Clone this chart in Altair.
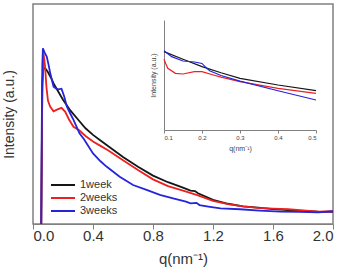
import altair as alt
import pandas as pd

series = ["1week", "2weeks", "3weeks"]
colors = ["#151515", "#ec2020", "#2424dc"]

# main curves
q_1w = [0.055, 0.062, 0.07, 0.085, 0.1, 0.12, 0.14, 0.17, 0.2, 0.25, 0.3, 0.35, 0.4, 0.45, 0.5, 0.6, 0.7, 0.8, 0.9, 1.0, 1.05, 1.08, 1.1, 1.2, 1.3, 1.4, 1.5, 1.6, 1.7, 1.8, 1.9, 2.0]
v_1w = [0, 64, 71, 70.5, 69, 66.5, 63.5, 60, 56.5, 51.5, 47.5, 43.5, 40.5, 38, 35.5, 30.5, 26, 22, 19, 16.5, 15.2, 15.0, 14, 11, 9.2, 8.0, 7.4, 6.8, 6.3, 6.0, 5.6, 5.5]

q_2w = [0.055, 0.062, 0.07, 0.08, 0.09, 0.1, 0.115, 0.137, 0.16, 0.19, 0.215, 0.24, 0.27, 0.31, 0.35, 0.4, 0.45, 0.5, 0.6, 0.7, 0.8, 0.9, 1.0, 1.1, 1.2, 1.3, 1.4, 1.5, 1.6, 1.7, 1.8, 1.9, 2.0]
v_2w = [0, 60, 77.5, 72, 62, 56, 53.3, 51.2, 52, 52.8, 51, 47.5, 44.2, 42.5, 40, 37.5, 35.5, 33.5, 29, 24.5, 20.3, 17.2, 15.2, 13, 10.5, 9.0, 8.0, 7.3, 7.0, 6.7, 6.2, 5.6, 5.8]

q_3w = [0.055, 0.058, 0.062, 0.066, 0.077, 0.092, 0.105, 0.115, 0.137, 0.155, 0.17, 0.19, 0.208, 0.226, 0.25, 0.27, 0.31, 0.34, 0.4, 0.45, 0.49, 0.578, 0.667, 0.757, 0.846, 0.934, 1.02, 1.05, 1.09, 1.11, 1.18, 1.25, 1.38, 1.51, 1.65, 1.78, 1.9, 2.0]
v_3w = [0, 40, 72, 79.9, 78, 76, 72, 68.5, 62.4, 61.5, 61.2, 61.5, 58, 53.3, 50, 47.3, 41.2, 38.5, 32.1, 28.5, 26.1, 21.5, 17.7, 15.5, 13.2, 11.7, 10.2, 9.4, 9.6, 8.6, 7.8, 7.1, 6.7, 6.1, 5.6, 5.5, 5.3, 5.8]

# inset curves
iq_1w = [0.1, 0.15, 0.2, 0.25, 0.3, 0.4, 0.5]
iv_1w = [71.2, 64.3, 57.6, 52, 47, 40.9, 35.8]
iq_2w = [0.1, 0.105, 0.11, 0.13, 0.15, 0.18, 0.2, 0.23, 0.25, 0.3, 0.4, 0.5]
iv_2w = [64.3, 60, 56.1, 51.5, 50.9, 53, 53, 50, 48, 44, 37.9, 33.3]
iq_3w = [0.1, 0.12, 0.15, 0.18, 0.2, 0.21, 0.22, 0.25, 0.3, 0.4, 0.5]
iv_3w = [72.1, 66.7, 62.7, 61.8, 60.5, 57, 53.9, 49.5, 44.5, 35.7, 27.3]

main_ticks = [0.0, 0.4, 0.8, 1.2, 1.6, 2.0]
inset_ticks = [0.1, 0.2, 0.3, 0.4, 0.5]


def build(qs, vs):
    rows = []
    for s, q, v in zip(series, qs, vs):
        for a, b in zip(q, v):
            rows.append({"q": a, "v": b, "series": s})
    return pd.DataFrame(rows)


main_df = build([q_1w, q_2w, q_3w], [v_1w, v_2w, v_3w])
inset_df = build([iq_1w, iq_2w, iq_3w], [iv_1w, iv_2w, iv_3w])

FONT = "Liberation Sans"
W, H = 300, 220
color_scale = alt.Scale(domain=series, range=colors)

main = alt.Chart(main_df).mark_line(strokeWidth=1.8).encode(
    x=alt.X("q:Q", scale=alt.Scale(domain=[0, 2], nice=False),
            axis=alt.Axis(values=main_ticks, format=".1f", title="q(nm⁻¹)",
                          grid=False, tickSize=5, labelFontSize=15, titleFontSize=15,
                          labelPadding=-1, titlePadding=8, labelColor="#333333",
                          titleColor="#333333", titleFontWeight="normal",
                          domainColor="#808080", tickColor="#808080", labelFont=FONT, titleFont=FONT)),
    y=alt.Y("v:Q", scale=alt.Scale(domain=[0, 100], nice=False),
            axis=alt.Axis(title="Intensity (a.u.)", labels=False, ticks=False, domain=False,
                          grid=False, titleFontSize=14, titlePadding=17, titleColor="#333333",
                          titleFontWeight="normal", titleFont=FONT)),
    color=alt.Color("series:N", scale=color_scale,
                    legend=alt.Legend(title=None, orient="none", legendX=17, legendY=175,
                                      symbolType="stroke", symbolSize=576, symbolStrokeWidth=2,
                                      labelFontSize=11, labelFont=FONT, labelColor="#333333",
                                      labelOffset=4, rowPadding=1, clipHeight=12)),
)

inset = alt.Chart(inset_df).mark_line(strokeWidth=1.2).encode(
    x=alt.X("q:Q", scale=alt.Scale(domain=[0.1, 0.5], range=[131, 283], nice=False),
            axis=alt.Axis(orient="bottom", offset=-94, values=inset_ticks, format=".1f",
                          title="q(nm⁻¹)", grid=False, tickSize=3, labelFontSize=6,
                          titleFontSize=7, labelPadding=1, titlePadding=4,
                          labelColor="#444444", titleColor="#444444", titleFontWeight="normal",
                          domainColor="#808080", tickColor="#808080", labelFont=FONT, titleFont=FONT)),
    y=alt.Y("v:Q", scale=alt.Scale(domain=[0, 100], range=[126, 16], nice=False),
            axis=alt.Axis(orient="left", offset=-131, title="Intensity (a.u.)", labels=False,
                          ticks=False, grid=False, titleFontSize=7, titlePadding=8,
                          titleColor="#444444", titleFontWeight="normal",
                          domainColor="#808080", titleFont=FONT)),
    color=alt.Color("series:N", scale=color_scale, legend=None),
)

chart = alt.layer(main, inset).resolve_scale(x="independent", y="independent").properties(
    width=W, height=H,
    autosize=alt.AutoSizeParams(type="none"),
    padding={"left": 33, "top": 4, "right": 8, "bottom": 44},
).configure_view(stroke="#808080", strokeWidth=1.5)

chart.save("out.html", embed_options={"renderer": "svg", "actions": False})
